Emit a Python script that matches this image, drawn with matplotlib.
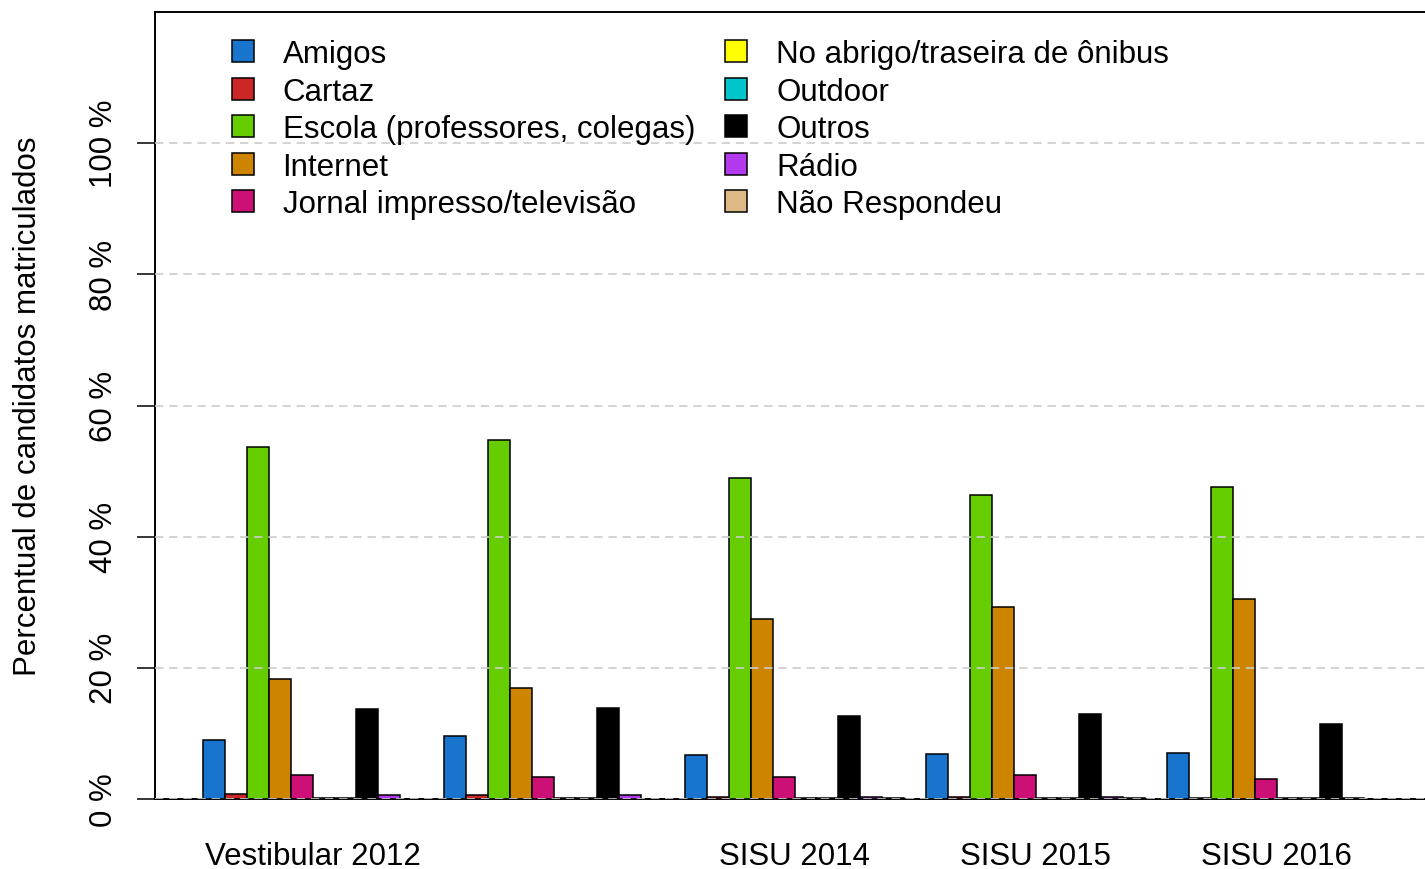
import numpy as np
import matplotlib
matplotlib.use("Agg")
import matplotlib.pyplot as plt
from matplotlib.patches import Patch

plt.rcParams['font.family'] = ['Liberation Sans', 'DejaVu Sans']

### Data ###
grupos = ["Vestibular 2012", "", "SISU 2014", "SISU 2015", "SISU 2016"]

fontes = ["Amigos", "Cartaz", "Escola (professores, colegas)", "Internet",
          "Jornal impresso/televisão", "No abrigo/traseira de ônibus",
          "Outdoor", "Outros", "Rádio", "Não Respondeu"]

cores = ["#1874CD", "#CD2626", "#66CD00", "#CD8500", "#CD1076",
         "#FFFF00", "#00C5CD", "#000000", "#B23AEE", "#DEB887"]

# percentual por fonte (linhas) e processo seletivo (colunas)
amigos   = [9.0, 9.6, 6.7, 6.9, 7.0]
cartaz   = [0.8, 0.6, 0.35, 0.3, 0.2]
escola   = [53.7, 54.7, 49.0, 46.4, 47.6]
internet = [18.3, 16.9, 27.4, 29.3, 30.5]
jornal   = [3.7, 3.3, 3.3, 3.7, 3.0]
abrigo   = [0.2, 0.2, 0.1, 0.1, 0.1]
outdoor  = [0.1, 0.2, 0.1, 0.1, 0.1]
outros   = [13.7, 13.9, 12.6, 13.0, 11.4]
radio    = [0.6, 0.55, 0.3, 0.3, 0.2]
naoresp  = [0.05, 0.05, 0.1, 0.1, 0.05]

valores = np.array([amigos, cartaz, escola, internet, jornal,
                    abrigo, outdoor, outros, radio, naoresp])

yticks = [0, 20, 40, 60, 80, 100]

### Figure ###
W, H = 1425, 870
fig = plt.figure(figsize=(W / 100, H / 100), dpi=100)

unit = 241 / 11.0          # bar width in pixels
x0 = -48 / unit            # left limit (data units)
x1 = 57.0
ax = fig.add_axes([155 / W, 70 / H, (x1 - x0) * unit / W, 787 / H])

fs = 22.5
nFontes = len(fontes)
for g in range(len(grupos)):
    for j in range(nFontes):
        ax.bar(g * (nFontes + 1) + j + 0.5, valores[j, g], width=1.0,
               color=cores[j], edgecolor='black', linewidth=1.1, zorder=2)

ax.set_xlim(x0, x1)
ax.set_ylim(0, 120)

# dashed grid drawn over the bars
for yv in yticks:
    ax.axhline(yv, color='#CCCCCC', linewidth=1.2, dashes=(5, 3.5), zorder=3)

for s in ax.spines.values():
    s.set_linewidth(1.4)
    s.set_zorder(1)

ax.set_yticks(yticks)
ax.set_yticklabels([str(v) + " %" for v in yticks], rotation=90, va='center',
                   fontsize=fs)
ax.tick_params(axis='y', length=13, width=1.1, pad=13)

centros = [g * (nFontes + 1) + nFontes / 2.0 for g in range(len(grupos))]
ax.set_xticks(centros)
ax.set_xticklabels(grupos, fontsize=fs)
ax.tick_params(axis='x', length=0, pad=30)

ax.set_ylabel("Percentual de candidatos matriculados", fontsize=fs, labelpad=33)

handles = [Patch(facecolor=c, edgecolor='black', linewidth=1.1) for c in cores]
ax.legend(handles, fontes, ncol=2, loc='upper left', frameon=False,
          bbox_to_anchor=(0.035, 1.005), fontsize=fs,
          handlelength=0.7, handleheight=0.7, handletextpad=0.93,
          columnspacing=0.96, labelspacing=0.24, borderaxespad=0.6)

fig.savefig("out.png", dpi=100)
